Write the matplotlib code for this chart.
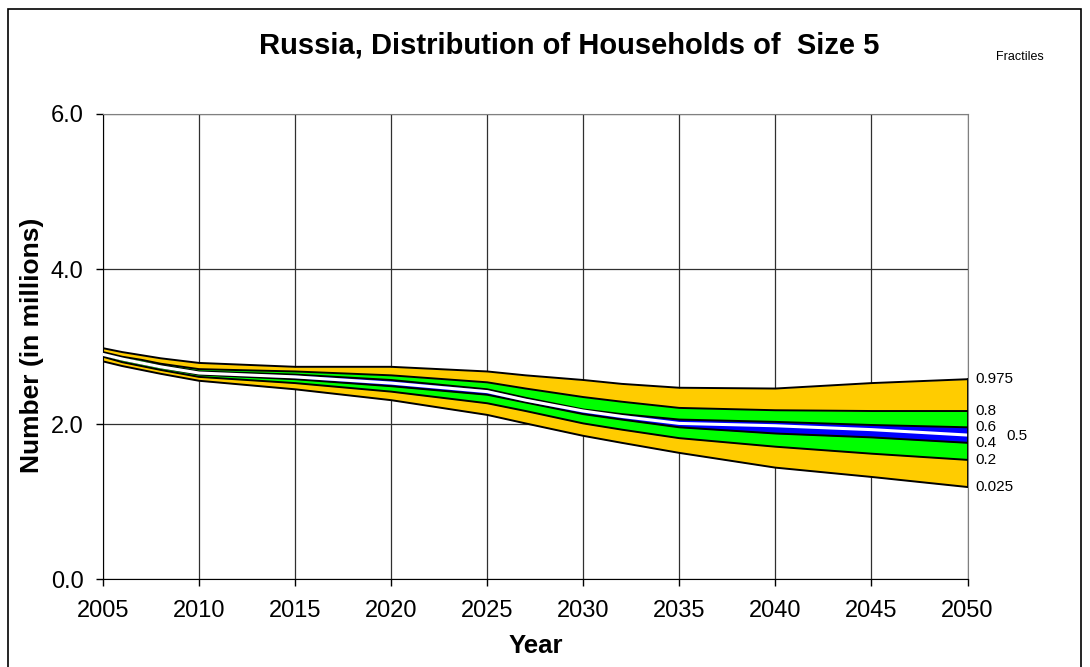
import matplotlib
matplotlib.use('Agg')
import matplotlib.pyplot as plt
from matplotlib.patches import Rectangle

plt.rcParams['font.family'] = ['Liberation Sans', 'DejaVu Sans']

# fractile paths of households of size 5, millions
years = [2005, 2006, 2007, 2008, 2010, 2015, 2020, 2025, 2027, 2030, 2032, 2035, 2040, 2045, 2050]
q975 = [2.98, 2.93, 2.89, 2.85, 2.79, 2.74, 2.74, 2.68, 2.63, 2.57, 2.52, 2.47, 2.46, 2.53, 2.58]
q80 = [2.93, 2.87, 2.83, 2.78, 2.71, 2.68, 2.63, 2.54, 2.46, 2.35, 2.29, 2.21, 2.18, 2.17, 2.17]
q60 = [2.91, 2.85, 2.80, 2.76, 2.68, 2.64, 2.57, 2.45, 2.34, 2.19, 2.13, 2.06, 2.03, 1.99, 1.96]
q50 = [2.90, 2.84, 2.79, 2.74, 2.66, 2.61, 2.53, 2.42, 2.31, 2.17, 2.10, 2.01, 1.98, 1.93, 1.86]
q40 = [2.89, 2.83, 2.78, 2.73, 2.64, 2.58, 2.49, 2.38, 2.28, 2.13, 2.06, 1.96, 1.88, 1.83, 1.76]
q20 = [2.87, 2.80, 2.75, 2.70, 2.61, 2.53, 2.42, 2.27, 2.17, 2.01, 1.93, 1.82, 1.71, 1.62, 1.54]
q025 = [2.81, 2.75, 2.70, 2.65, 2.56, 2.45, 2.31, 2.12, 2.01, 1.85, 1.76, 1.63, 1.44, 1.32, 1.19]

xticks = [2005, 2010, 2015, 2020, 2025, 2030, 2035, 2040, 2045, 2050]
yticks = [0.0, 2.0, 4.0, 6.0]

W, H = 1090, 667
fig = plt.figure(figsize=(W / 100, H / 100), dpi=100)
fig.patch.set_facecolor('white')

# plot area in pixels
left, right, top, bottom = 103, 967.5, 114, 579.3
ax = fig.add_axes([left / W, (H - bottom) / H, (right - left) / W, (bottom - top) / H])

ax.fill_between(years, q025, q975, color='#FFCC00', lw=0)
ax.fill_between(years, q20, q80, color='#00FF00', lw=0)
ax.fill_between(years, q40, q60, color='#0000FF', lw=0)
for q in (q975, q80, q60, q40, q20, q025):
    ax.plot(years, q, color='black', lw=1.4, zorder=3)
ax.plot(years, q50, color='white', lw=2.2, zorder=3)
ax.plot([years[-1], years[-1]], [q025[-1], q975[-1]], color='black', lw=1.3, zorder=3)

ax.set_xlim(2005, 2050)
ax.set_ylim(0, 6)
ax.set_xticks(xticks)
ax.set_yticks(yticks)
ax.set_yticklabels(['%.1f' % v for v in yticks])
ax.tick_params(axis='both', direction='out', length=5, width=1, labelsize=17)
ax.tick_params(axis='x', pad=10)
ax.tick_params(axis='y', pad=9)
ax.grid(True, color='#303030', lw=0.9)
ax.set_axisbelow(True)
for s in ('top', 'right'):
    ax.spines[s].set_color('#808080')
for s in ('left', 'bottom'):
    ax.spines[s].set_color('black')

# fractile labels at the right end
labels = [('0.975', q975), ('0.8', q80), ('0.6', q60), ('0.4', q40),
          ('0.2', q20), ('0.025', q025)]
for txt, q in labels:
    ax.annotate(txt, (years[-1], q[-1]), xytext=(6, 0), textcoords='offset points',
                va='center', ha='left', fontsize=11, annotation_clip=False)
ax.annotate('0.5', (years[-1], q50[-1]), xytext=(28, -1), textcoords='offset points',
            va='center', ha='left', fontsize=11, annotation_clip=False)

fig.text(569 / W, 1 - 45 / H, 'Russia, Distribution of Households of  Size 5',
         ha='center', va='center', fontsize=21, fontweight='bold')
fig.text(1020 / W, 1 - 57 / H, 'Fractiles', ha='center', va='center', fontsize=9)
fig.text(32 / W, 1 - 345 / H, 'Number (in millions)', rotation=90,
         ha='center', va='center', fontsize=19, fontweight='bold')
fig.text(536 / W, 1 - 646 / H, 'Year', ha='center', va='center',
         fontsize=18.5, fontweight='bold')

# chart border
fig.patches.append(Rectangle((8 / W, -0.05), (1081 - 8) / W, 1.05 - 9 / H,
                             transform=fig.transFigure, fill=False,
                             edgecolor='black', lw=1.2))

fig.savefig('out.png', dpi=100)
